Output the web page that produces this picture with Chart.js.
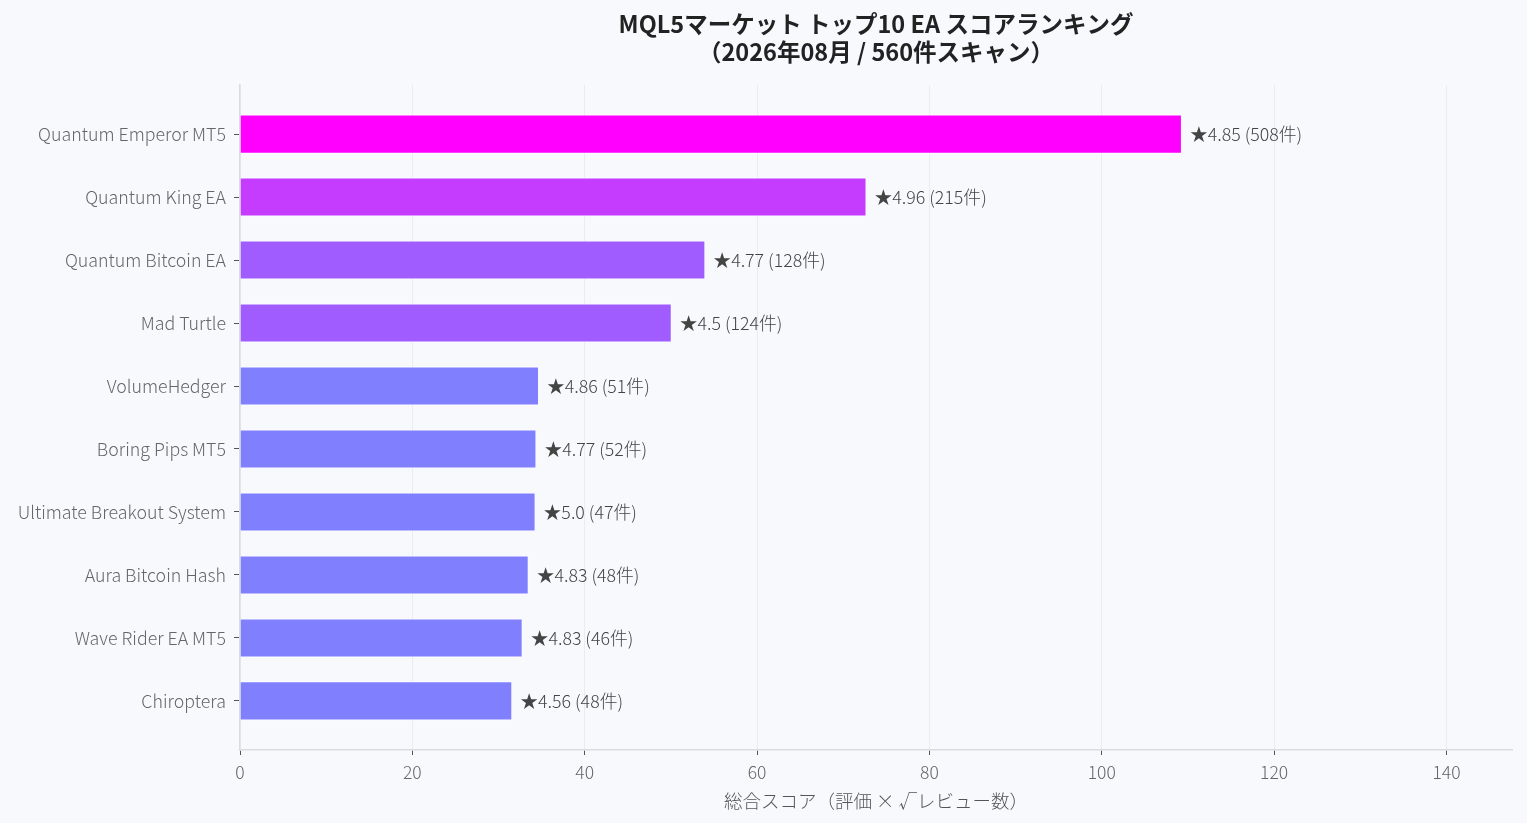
<!DOCTYPE html>
<html>
<head>
<meta charset="utf-8">
<script src="https://cdn.jsdelivr.net/npm/chart.js@4.4.1/dist/chart.umd.min.js"></script>
<style>
  html, body { margin: 0; padding: 0; background: #f8f9fd; }
  #wrap { width: 1527px; height: 823px; }
</style>
</head>
<body>
<div id="wrap"><canvas id="chart"></canvas></div>
<script>
// EA names, top to bottom
const eaNames = [
    'Quantum Emperor MT5', 'Quantum King EA', 'Quantum Bitcoin EA', 'Mad Turtle',
    'VolumeHedger', 'Boring Pips MT5', 'Ultimate Breakout System', 'Aura Bitcoin Hash',
    'Wave Rider EA MT5', 'Chiroptera'
];
// total score
const scores = [109.3, 72.7, 54.0, 50.1, 34.7, 34.4, 34.3, 33.5, 32.8, 31.6];
const ratings = ['4.85', '4.96', '4.77', '4.5', '4.86', '4.77', '5.0', '4.83', '4.83', '4.56'];
const reviews = [508, 215, 128, 124, 51, 52, 47, 48, 46, 48];
const barColors = ['#ff00ff', '#c53cff', '#a05cff', '#a05cff', '#8080ff',
    '#8080ff', '#8080ff', '#8080ff', '#8080ff', '#8080ff'];
const xTicks = [0, 20, 40, 60, 80, 100, 120, 140];

const FONT = '"Noto Sans CJK JP", "Noto Sans", sans-serif';

// page background
const bgPlugin = {
    id: 'bg',
    beforeDraw(chart) {
        const c = chart.ctx;
        c.save();
        c.fillStyle = '#f8f9fd';
        c.fillRect(0, 0, chart.width, chart.height);
        c.restore();
    }
};

// title centered over the plot area
const titlePlugin = {
    id: 'plotTitle',
    afterDraw(chart) {
        const c = chart.ctx;
        const a = chart.chartArea;
        const cx = (a.left + a.right) / 2;
        c.save();
        c.fillStyle = '#222';
        c.font = 'bold 23.5px ' + FONT;
        c.textAlign = 'center';
        c.textBaseline = 'middle';
        c.fillText('MQL5マーケット トップ10 EA スコアランキング', cx, 24);
        c.fillText('（2026年08月 / 560件スキャン）', cx, 52);
        c.restore();
    }
};

// "★rating (n件)" after each bar
const valueLabels = {
    id: 'valueLabels',
    afterDatasetsDraw(chart) {
        const c = chart.ctx;
        const meta = chart.getDatasetMeta(0);
        c.save();
        c.fillStyle = '#444';
        c.font = '300 17.8px ' + FONT;
        c.textBaseline = 'middle';
        c.textAlign = 'left';
        meta.data.forEach((bar, i) => {
            c.fillText('★' + ratings[i] + ' (' + reviews[i] + '件)', bar.x + 8, bar.y);
        });
        c.restore();
    }
};

const ctx = document.getElementById('chart').getContext('2d');
new Chart(ctx, {
    type: 'bar',
    data: {
        datasets: [{
            data: scores.map((v, i) => ({ x: v, y: i })),
            backgroundColor: barColors,
            borderColor: 'rgba(255,255,255,0.85)',
            borderWidth: 1,
            categoryPercentage: 1,
            barPercentage: 0.62
        }]
    },
    options: {
        indexAxis: 'y',
        responsive: true,
        maintainAspectRatio: false,
        animation: false,
        layout: { padding: { top: 85, right: 15, left: 0, bottom: 0 } },
        plugins: {
            legend: { display: false },
            tooltip: { enabled: false },
            title: { display: false }
        },
        scales: {
            x: {
                type: 'linear',
                min: 0,
                max: 147.6,
                afterFit: s => { s.height = 73; },
                afterBuildTicks: s => { s.ticks = xTicks.map(v => ({ value: v })); },
                ticks: {
                    color: '#666',
                    font: { family: FONT, size: 17.5, weight: 300 },
                    padding: 7
                },
                grid: {
                    color: '#ebebf0',
                    lineWidth: 1,
                    tickColor: '#555',
                    tickLength: 5
                },
                border: { color: '#dcdce0', width: 1.5 },
                title: {
                    display: true,
                    text: '総合スコア（評価 × √レビュー数）',
                    color: '#555',
                    font: { family: FONT, size: 18.5, weight: 300 },
                    padding: { top: 2, bottom: 11 }
                }
            },
            y: {
                type: 'linear',
                reverse: true,
                offset: false,
                min: -0.78,
                max: 9.78,
                afterFit: s => { s.width = 240; },
                ticks: {
                    stepSize: 1,
                    includeBounds: false,
                    autoSkip: false,
                    color: '#666',
                    font: { family: FONT, size: 17.8, weight: 300 },
                    padding: 8,
                    callback: v => eaNames[v] || ''
                },
                grid: {
                    offset: false,
                    drawOnChartArea: false,
                    tickColor: '#555',
                    tickLength: 6
                },
                border: { color: '#dcdce0', width: 1.5 }
            }
        }
    },
    plugins: [bgPlugin, titlePlugin, valueLabels]
});
</script>
</body>
</html>
